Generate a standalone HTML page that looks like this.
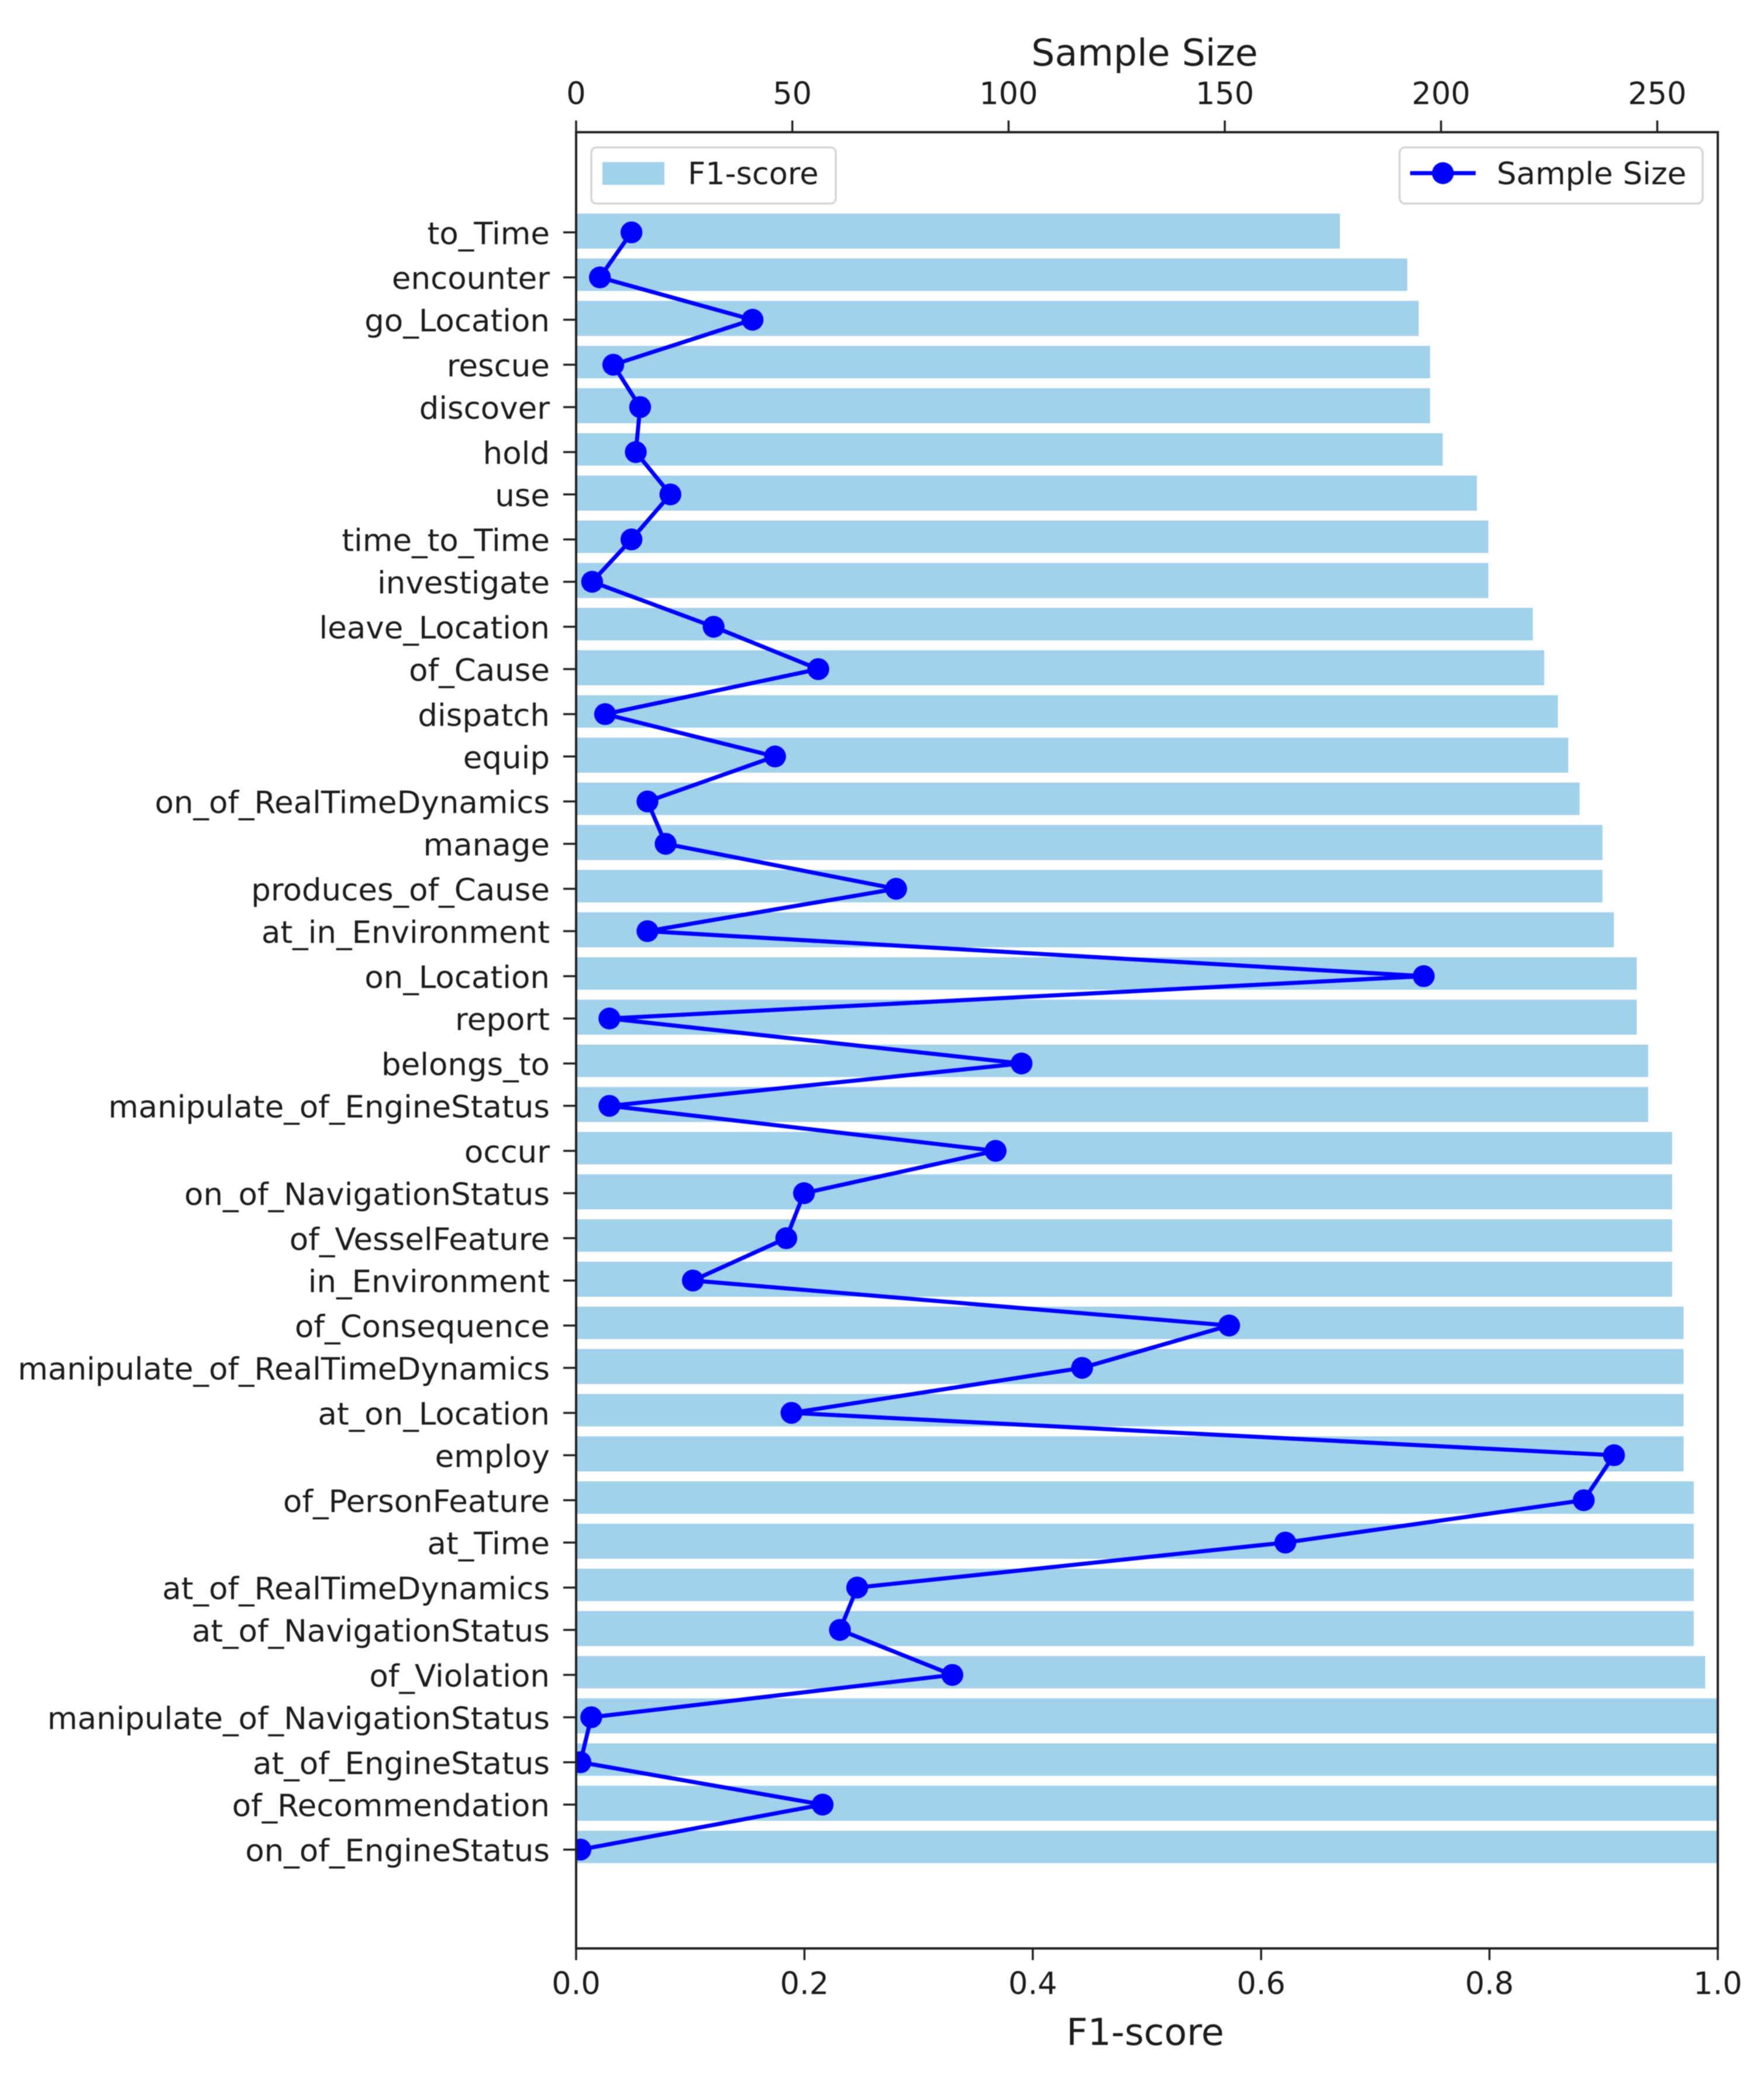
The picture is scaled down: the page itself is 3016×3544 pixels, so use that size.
<!DOCTYPE html>
<html lang="en">
<head>
<meta charset="utf-8">
<title>F1-score and Sample Size by relation</title>
<style>
html,body{margin:0;padding:0;background:#fff;}
svg{display:block;filter:blur(0.9px);}
text{font-family:"DejaVu Sans","Liberation Sans",sans-serif;fill:#1c1c1c;}
</style>
</head>
<body>
<svg id="chart" xmlns="http://www.w3.org/2000/svg" width="3016" height="3544" viewBox="0 0 3016 3544">
  <defs>
    <clipPath id="axes-clip"><rect x="985" y="226" width="1952" height="3105"/></clipPath>
  </defs>
  <rect x="0" y="0" width="3016" height="3544" fill="#ffffff"/>
  <g id="bars"></g>
  <g id="series" clip-path="url(#axes-clip)"></g>
  <g id="ticks"></g>
  <rect x="985" y="226" width="1952" height="3105" fill="none" stroke="#222222" stroke-width="4"/>
  <text x="1957" y="112" font-size="63.3" text-anchor="middle">Sample Size</text>
  <text x="1958" y="3496" font-size="63.3" text-anchor="middle">F1-score</text>
  <g>
    <rect x="1011" y="252" width="418" height="96" rx="9" fill="#ffffff" stroke="#d6d6d6" stroke-width="3.5"/>
    <rect x="1030" y="277" width="106" height="39" fill="#a2d1ec"/>
    <text x="1176" y="315" font-size="52.5">F1-score</text>
  </g>
  <g>
    <rect x="2393" y="252" width="518" height="96" rx="9" fill="#ffffff" stroke="#d6d6d6" stroke-width="3.5"/>
    <line x1="2411" y1="296" x2="2523" y2="296" stroke="#0000ff" stroke-width="7"/>
    <circle cx="2467" cy="296" r="18.7" fill="#0000ff"/>
    <text x="2559" y="315" font-size="53">Sample Size</text>
  </g>
</svg>
<script>
const categories = ["to_Time","encounter","go_Location","rescue","discover","hold","use","time_to_Time","investigate","leave_Location","of_Cause","dispatch","equip","on_of_RealTimeDynamics","manage","produces_of_Cause","at_in_Environment","on_Location","report","belongs_to","manipulate_of_EngineStatus","occur","on_of_NavigationStatus","of_VesselFeature","in_Environment","of_Consequence","manipulate_of_RealTimeDynamics","at_on_Location","employ","of_PersonFeature","at_Time","at_of_RealTimeDynamics","at_of_NavigationStatus","of_Violation","manipulate_of_NavigationStatus","at_of_EngineStatus","of_Recommendation","on_of_EngineStatus"];
const f1Scores = [0.669,0.728,0.738,0.748,0.748,0.759,0.789,0.799,0.799,0.838,0.848,0.86,0.869,0.879,0.899,0.899,0.909,0.929,0.929,0.939,0.939,0.96,0.96,0.96,0.96,0.97,0.97,0.97,0.97,0.979,0.979,0.979,0.979,0.989,1.0,1.0,1.0,1.0];
const sampleSizes = [12.8,5.5,40.8,8.6,14.8,13.8,21.8,12.8,3.7,31.8,56,6.7,46,16.5,20.7,74,16.5,196,7.7,103,7.7,97,52.7,48.6,27,151,117,49.8,240,233,164,65,61,87,3.5,1,57,1];
const f1Ticks = [0,0.2,0.4,0.6,0.8,1.0];
const f1TickLabels = ["0.0","0.2","0.4","0.6","0.8","1.0"];
const sampleTicks = [0,50,100,150,200,250];
const sampleTickLabels = ["0","50","100","150","200","250"];

const SVG_NS = "http://www.w3.org/2000/svg";
const plotLeft = 985, plotRight = 2937, plotTop = 226, plotBottom = 3331;
const f1Max = 1.0, sampleMax = 264;
const rasterStep = 4.525, rowSteps = 16.5;

function xF1(v){ return plotLeft + (v / f1Max) * (plotRight - plotLeft); }
function xSample(v){ return plotLeft + (v / sampleMax) * (plotRight - plotLeft); }
function yCat(i){ return 397.3 + rasterStep * Math.round(i * rowSteps); }
function barTop(i){ return 365 + rasterStep * Math.round(i * rowSteps); }
function barBottom(i){ return 425 + rasterStep * Math.round(i * rowSteps - 0.5); }
function make(tag, parent){
  const el = document.createElementNS(SVG_NS, tag);
  parent.appendChild(el);
  return el;
}

const barsGroup = document.getElementById("bars");
const seriesGroup = document.getElementById("series");
const ticksGroup = document.getElementById("ticks");

categories.forEach(function(name, i){
  const bar = make("rect", barsGroup);
  
  
  bar.setAttribute("x", plotLeft);
  bar.setAttribute("y", barTop(i));
  bar.setAttribute("width", xF1(f1Scores[i]) - plotLeft);
  bar.setAttribute("height", barBottom(i) - barTop(i));
  bar.setAttribute("fill", "#a2d1ec");

  const tick = make("line", ticksGroup);
  
  
  tick.setAttribute("x1", plotLeft - 22);
  tick.setAttribute("x2", plotLeft);
  tick.setAttribute("y1", yCat(i));
  tick.setAttribute("y2", yCat(i));
  tick.setAttribute("stroke", "#222222");
  tick.setAttribute("stroke-width", "3.5");

  const label = make("text", ticksGroup);
  
  
  label.setAttribute("x", 940);
  label.setAttribute("y", yCat(i) + 20);
  label.setAttribute("font-size", "53");
  label.setAttribute("text-anchor", "end");
  label.textContent = name;
});

const sampleLine = make("polyline", seriesGroup);


sampleLine.setAttribute("fill", "none");
sampleLine.setAttribute("stroke", "#0000ff");
sampleLine.setAttribute("stroke-width", "7");
sampleLine.setAttribute("stroke-linejoin", "round");
sampleLine.setAttribute("points", sampleSizes.map(function(v, i){ return xSample(v) + "," + yCat(i); }).join(" "));

sampleSizes.forEach(function(v, i){
  const point = make("circle", seriesGroup);
  
  
  point.setAttribute("cx", xSample(v));
  point.setAttribute("cy", yCat(i));
  point.setAttribute("r", "18.7");
  point.setAttribute("fill", "#0000ff");
});

f1Ticks.forEach(function(v, i){
  const tick = make("line", ticksGroup);
  
  
  tick.setAttribute("x1", xF1(v));
  tick.setAttribute("x2", xF1(v));
  tick.setAttribute("y1", plotBottom);
  tick.setAttribute("y2", plotBottom + 20);
  tick.setAttribute("stroke", "#222222");
  tick.setAttribute("stroke-width", "3.5");

  const label = make("text", ticksGroup);
  
  
  label.setAttribute("x", xF1(v));
  label.setAttribute("y", 3409);
  label.setAttribute("font-size", "52.5");
  label.setAttribute("text-anchor", "middle");
  label.textContent = f1TickLabels[i];
});

sampleTicks.forEach(function(v, i){
  const tick = make("line", ticksGroup);
  
  
  tick.setAttribute("x1", xSample(v));
  tick.setAttribute("x2", xSample(v));
  tick.setAttribute("y1", plotTop - 20);
  tick.setAttribute("y2", plotTop);
  tick.setAttribute("stroke", "#222222");
  tick.setAttribute("stroke-width", "3.5");

  const label = make("text", ticksGroup);
  
  
  label.setAttribute("x", xSample(v));
  label.setAttribute("y", 178);
  label.setAttribute("font-size", "52.5");
  label.setAttribute("text-anchor", "middle");
  label.textContent = sampleTickLabels[i];
});
</script>
</body>
</html>
